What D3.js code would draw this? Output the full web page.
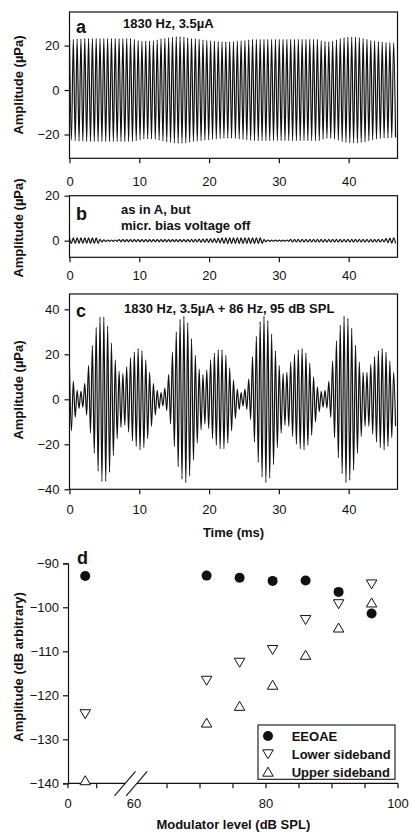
<!DOCTYPE html>
<html><head><meta charset="utf-8">
<script src="https://cdn.jsdelivr.net/npm/d3@7"></script>
<style>
html,body{margin:0;padding:0;background:#fff;}
svg{display:block;font-family:"Liberation Sans",Arial,Helvetica,sans-serif;}
</style></head><body>
<svg id="chart" width="411" height="839"></svg>
<script>
// ---------- data ----------
const carrierHz = 1830;                 // stimulus frequency (from panel titles)
const timeTicks = [0, 10, 20, 30, 40];  // ms

// peak amplitude (µPa) of each carrier cycle
const ampA = [22.5,22.8,23,23,
  23.2,23.2,23.2,23.2,23.2,23.2,23.2,23.2,23.2,23.2,23.2,23.2,23.2,
  22.8,22.4,22,22,22,22.2,22.6,
  23,23.3,23.6,23.8,24,24,23.8,23.5,23.2,
  23,22.8,22.6,22.4,22.2,22,
  21.8,21.7,21.7,21.7,21.8,22,22.2,22.4,22.6,
  22.8,22.8,22.8,22.8,22.8,22.8,22.8,22.8,22.8,22.8,22.8,22.8,22.8,22.8,22.8,22.8,22.8,22.8,
  22.2,21.8,21.7,22,22.6,
  23.2,23.6,23.8,23.8,23.8,23.6,23.3,22.8,
  22.4,22,21.8,21.6,21.5,21.4,21.3];
const ampB = [1.2,1.2,1.2,1.2,1.2,1.2,1.2,1.2,
  0.6,0.4,0.3,0.3,0.3,
  0.5,0.5,0.5,0.5,0.5,0.5,0.5,0.5,0.5,0.5,0.5,0.5,0.5,0.5,0.5,0.5,0.5,0.5,0.5,0.6,0.6,0.7,0.7,0.8,0.8,0.9,1.0,
  1.3,1.3,1.3,1.3,1.3,1.3,1.3,1.3,1.3,1.3,1.2,
  0.5,0.3,0.2,0.2,0.2,0.2,0.3,
  0.6,0.6,0.6,0.6,0.6,0.6,0.6,0.6,0.6,0.6,0.6,0.6,0.6,0.6,0.6,0.6,0.6,0.6,0.6,0.6,0.6,0.6,0.6,0.6,0.6,
  0.9,1.1,1.2];
const ampC = [14,8,4,3.5,7,15,24,32,36.5,36.5,32.5,25,17.5,12.5,11.5,14.5,18.5,21,22.5,21.5,
  17.5,12,7,4,3,5,11,21,30,35.5,37,34,27,19.5,13.5,11,13,17.5,20.5,22,
  22,19.5,14,8.5,4.5,3,4.5,9,19,28,34.5,37,35,29,21.5,15,11.5,12,16.5,20,
  22,22.5,20.5,16,10,5.5,3.5,4,8,17,26,33,37,36,31.5,24,16.5,12,12,15.5,
  19,21.5,22.5,21,17,12];
const ticksA = [-20, 0, 20];
const ticksB = [0, 20];
const ticksC = [-40, -20, 0, 20, 40];

// panel d
const modLevel = [6, 71, 76, 81, 86, 91, 96];           // dB SPL
const eeoae   = [-92.9, -92.8, -93.3, -94.0, -93.9, -96.5, -101.4];
const lowerSB = [-124.3, -116.7, -112.6, -109.7, -102.9, -99.3, -94.8];
const upperSB = [-139.3, -126.2, -122.4, -117.6, -110.8, -104.6, -98.9];
const levelLabelTicks = [0, 60, 80, 100];
const levelTicks = [0, 10, 65, 70, 75, 80, 85, 90, 95, 100];
const ampDTicks = [-140, -130, -120, -110, -100, -90];
const legendLabels = ["EEOAE", "Lower sideband", "Upper sideband"];

// ---------- drawing ----------
const svg = d3.select("#chart");
const FS = 13;
const X0 = 69.5, X1 = 397.5;
const x = d3.scaleLinear().domain([0, 47]).range([X0, X1]);
const T = 1000 / carrierHz;

function wavePoints(amp) {
  const pts = [];
  amp.forEach((a, i) => { pts.push([i * T, a]); pts.push([(i + 0.5) * T, -a]); });
  return pts;
}

const panels = [
  {amp: ampA, top: 12, bottom: 158.3, dom: [-30.7, 35.1], ticks: ticksA, letter: "a", lb: 33,
   titles: [["1830 Hz, 3.5µA", 123, 28.3]], xpad: 13, yc: 85},
  {amp: ampB, top: 195.7, bottom: 257.3, dom: [-7.4, 20], ticks: ticksB, letter: "b", lb: 219.5,
   titles: [["as in A, but", 121, 214], ["micr. bias voltage off", 121, 229.5]], xpad: 8.5, yc: 228},
  {amp: ampC, top: 294, bottom: 489.3, dom: [-40, 46.8], ticks: ticksC, letter: "c", lb: 316.7,
   titles: [["1830 Hz, 3.5µA + 86 Hz, 95 dB SPL", 124, 312.7]], xpad: 10.7, yc: 390}
];

panels.forEach((p, k) => {
  const y = d3.scaleLinear().domain(p.dom).range([p.bottom, p.top]);
  const g = svg.append("g");
  const cid = "clip" + k;
  svg.append("clipPath").attr("id", cid).append("rect")
    .attr("x", X0).attr("y", p.top).attr("width", X1 - X0).attr("height", p.bottom - p.top);
  g.append("path").datum(wavePoints(p.amp))
    .attr("clip-path", `url(#${cid})`)
    .attr("fill", "none").attr("stroke", "#111").attr("stroke-width", 1.2)
    .attr("d", d3.line().x(d => x(d[0])).y(d => y(d[1])).curve(d3.curveMonotoneX));
  g.append("rect").attr("x", X0).attr("y", p.top).attr("width", X1 - X0).attr("height", p.bottom - p.top)
    .attr("fill", "none").attr("stroke", "#111").attr("stroke-width", 1.2);
  const ya = g.append("g").attr("transform", `translate(${X0},0)`)
    .call(d3.axisLeft(y).tickValues(p.ticks).tickSize(5).tickPadding(5).tickFormat(d3.format("d")));
  const xa = g.append("g").attr("transform", `translate(0,${p.bottom})`)
    .call(d3.axisBottom(x).tickValues(timeTicks).tickSize(5).tickPadding(p.xpad));
  [ya, xa].forEach(a => {
    a.select(".domain").remove();
    a.selectAll("line").attr("stroke", "#111").attr("stroke-width", 1.2);
    a.selectAll("text").attr("font-size", FS).attr("fill", "#111").attr("font-family", null);
  });
  g.append("text").attr("x", 76).attr("y", p.lb).attr("font-size", 18).attr("font-weight", "bold")
    .attr("fill", "#111").text(p.letter);
  p.titles.forEach(t => g.append("text").attr("x", t[1]).attr("y", t[2]).attr("font-size", 13)
    .attr("font-weight", "bold").attr("fill", "#111").text(t[0]));
  g.append("text").attr("transform", `translate(23,${p.yc}) rotate(-90)`).attr("text-anchor", "middle")
    .attr("font-size", 13).attr("font-weight", "bold").attr("fill", "#111").text("Amplitude (µPa)");
});

svg.append("text").attr("x", 233.5).attr("y", 536.7).attr("text-anchor", "middle")
  .attr("font-size", 13).attr("font-weight", "bold").attr("fill", "#111").text("Time (ms)");

// ---------- panel d ----------
const DX0 = 68, DY0 = 783.3, DY1 = 563.3;
const xD = d3.scaleLinear().domain([0, 10, 60, 100]).range([DX0, 96.7, 134, 398]);
const yD = d3.scaleLinear().domain([-140, -90]).range([DY0, DY1]);
const gd = svg.append("g");

// y axis
const yaD = gd.append("g").attr("transform", `translate(${DX0},0)`)
  .call(d3.axisLeft(yD).tickValues(ampDTicks).tickSize(5).tickPadding(4));
yaD.select(".domain").attr("stroke", "#111").attr("stroke-width", 1.2);
yaD.selectAll("line").attr("stroke", "#111").attr("stroke-width", 1.2);
yaD.selectAll("text").attr("font-size", FS).attr("fill", "#111").attr("font-family", null);

// broken x axis
const gapL = 125, gapR = 136.7;
gd.append("line").attr("x1", DX0).attr("x2", gapL).attr("y1", DY0).attr("y2", DY0)
  .attr("stroke", "#111").attr("stroke-width", 1.2);
gd.append("line").attr("x1", gapR).attr("x2", xD(100)).attr("y1", DY0).attr("y2", DY0)
  .attr("stroke", "#111").attr("stroke-width", 1.2);
[gapL, gapR].forEach(cx => gd.append("line")
  .attr("x1", cx - 10.5).attr("y1", DY0 + 12.5).attr("x2", cx + 10.5).attr("y2", DY0 - 12)
  .attr("stroke", "#111").attr("stroke-width", 1.1));
gd.selectAll(".xt").data(levelTicks).join("line").attr("class", "xt")
  .attr("x1", d => xD(d)).attr("x2", d => xD(d)).attr("y1", DY0).attr("y2", DY0 + 5)
  .attr("stroke", "#111").attr("stroke-width", 1.2);
gd.selectAll(".xl").data(levelLabelTicks).join("text").attr("class", "xl")
  .attr("x", d => xD(d)).attr("y", DY0 + 15).attr("dy", "0.71em").attr("text-anchor", "middle")
  .attr("font-size", FS).attr("fill", "#111").text(d => d);

gd.append("text").attr("x", 233.3).attr("y", 829.3).attr("text-anchor", "middle")
  .attr("font-size", 13).attr("font-weight", "bold").attr("fill", "#111").text("Modulator level (dB SPL)");
gd.append("text").attr("transform", `translate(23,667) rotate(-90)`).attr("text-anchor", "middle")
  .attr("font-size", 13).attr("font-weight", "bold").attr("fill", "#111").text("Amplitude (dB arbitrary)");
gd.append("text").attr("x", 77).attr("y", 564).attr("font-size", 18).attr("font-weight", "bold")
  .attr("fill", "#111").text("d");

const TW = 10.5, TH = 9;
const triDown = `M${-TW/2},${-TH/2}L${TW/2},${-TH/2}L0,${TH/2}Z`;
const triUp = `M0,${-TH/2}L${TW/2},${TH/2}L${-TW/2},${TH/2}Z`;

gd.selectAll(".lo").data(modLevel).join("path").attr("class", "lo")
  .attr("transform", (d, i) => `translate(${xD(d)},${yD(lowerSB[i])})`)
  .attr("d", triDown).attr("fill", "#fff").attr("stroke", "#111").attr("stroke-width", 1);
gd.selectAll(".up").data(modLevel).join("path").attr("class", "up")
  .attr("transform", (d, i) => `translate(${xD(d)},${yD(upperSB[i])})`)
  .attr("d", triUp).attr("fill", "#fff").attr("stroke", "#111").attr("stroke-width", 1);
gd.selectAll(".ee").data(modLevel).join("circle").attr("class", "ee")
  .attr("cx", d => xD(d)).attr("cy", (d, i) => yD(eeoae[i])).attr("r", 5).attr("fill", "#111");

// legend
const lg = gd.append("g");
lg.append("rect").attr("x", 258).attr("y", 725).attr("width", 137).attr("height", 54.3)
  .attr("fill", "#fff").attr("stroke", "#111").attr("stroke-width", 1.1);
const ly = [736, 754.3, 771.7];
lg.append("circle").attr("cx", 268).attr("cy", ly[0]).attr("r", 5).attr("fill", "#111");
lg.append("path").attr("transform", `translate(268,${ly[1]})`).attr("d", triDown)
  .attr("fill", "#fff").attr("stroke", "#111");
lg.append("path").attr("transform", `translate(268,${ly[2]})`).attr("d", triUp)
  .attr("fill", "#fff").attr("stroke", "#111");
legendLabels.forEach((t, i) => lg.append("text").attr("x", 291.7).attr("y", ly[i] + 4.8)
  .attr("font-size", 13).attr("font-weight", "bold").attr("fill", "#111").text(t));
</script>
</body></html>
